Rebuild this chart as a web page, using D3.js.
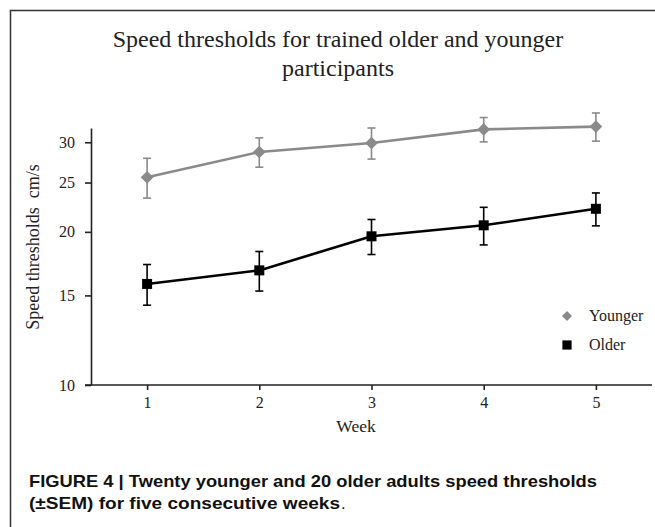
<!DOCTYPE html>
<html>
<head>
<meta charset="utf-8">
<script src="https://d3js.org/d3.v7.min.js"></script>
<style>
  body { margin: 0; background: #fff; }
  svg { display: block; }
  .axis path, .axis line { stroke: #222; stroke-width: 1.6; }
  .axis text { font-family: "Liberation Serif", "Times New Roman", serif; font-size: 16px; fill: #222; }
  .serif { font-family: "Liberation Serif", "Times New Roman", serif; fill: #222; }
  .caption { font-family: "Liberation Sans", Arial, sans-serif; font-weight: bold; font-size: 16.5px; fill: #111; }
</style>
</head>
<body>
<div id="chart"></div>
<script>

var weeks = [1, 2, 3, 4, 5];

var youngerMean = [25.6, 28.7, 29.9, 31.8, 32.2];
var youngerSem = [2.3, 1.9, 2.1, 1.75, 2.05];

var olderMean = [15.8, 16.8, 19.6, 20.6, 22.2];
var olderSem = [1.45, 1.5, 1.55, 1.75, 1.65];

var yTicks = [10, 15, 20, 25, 30];

var W = 655, H = 527;

var svg = d3.select("#chart")
    .append("svg")
    .attr("width", W)
    .attr("height", H);

// figure frame (only top and left edges show)
svg.append("rect")
    .attr("x", 10.5)
    .attr("y", 10.5)
    .attr("width", W + 20)
    .attr("height", H + 20)
    .attr("fill", "none")
    .attr("stroke", "#333")
    .attr("stroke-width", 1.5);

var xScale = d3.scaleLinear()
    .domain([0.5, 5.5])
    .range([91, 652]);

var yScale = d3.scaleLog()
    .domain([10, 32])
    .range([385, 128]);

// title
var title = svg.append("text")
    .attr("class", "serif")
    .attr("x", 338)
    .attr("y", 47)
    .style("text-anchor", "middle")
    .style("font-size", "24px");
title.append("tspan").attr("x", 338).text("Speed thresholds for trained older and younger");
title.append("tspan").attr("x", 338).attr("dy", 29).text("participants");

// axes
var xAxis = d3.axisBottom(xScale).tickValues(weeks).tickFormat(d3.format("d")).tickSize(5).tickSizeOuter(0).tickPadding(7);
var yAxis = d3.axisLeft(yScale).tickValues(yTicks).tickFormat(d3.format("d")).tickSize(6).tickSizeOuter(0).tickPadding(10);

svg.append("g")
    .attr("class", "axis")
    .attr("transform", "translate(0,385)")
    .call(xAxis)
    .call(function (g) { g.select(".domain").attr("d", "M85,0H652"); });

svg.append("g")
    .attr("class", "axis")
    .attr("transform", "translate(91,0)")
    .call(yAxis);

svg.append("text")
    .attr("class", "serif")
    .attr("x", 356)
    .attr("y", 432)
    .style("text-anchor", "middle")
    .style("font-size", "17.5px")
    .text("Week");

svg.append("text")
    .attr("class", "serif")
    .attr("transform", "rotate(-90)")
    .attr("x", -247)
    .attr("y", 39)
    .style("text-anchor", "middle")
    .style("font-size", "18px")
    .attr("xml:space", "preserve")
    .text("Speed thresholds  cm/s");

function makeSeries(mean, sem) {
    return weeks.map(function (w, i) {
        return { week: w, mean: mean[i], lo: mean[i] - sem[i], hi: mean[i] + sem[i] };
    });
}

var series = [
    { name: "Younger", color: "#8a8a8a", data: makeSeries(youngerMean, youngerSem), shape: "diamond" },
    { name: "Older", color: "#000", data: makeSeries(olderMean, olderSem), shape: "square" }
];

var line = d3.line()
    .x(function (d) { return xScale(d.week); })
    .y(function (d) { return yScale(d.mean); });

series.forEach(function (s) {
    var g = svg.append("g");

    // error bars
    var eb = g.selectAll(".eb")
        .data(s.data).enter()
        .append("g")
        .attr("stroke", s.color)
        .attr("stroke-width", 1.6);
    eb.append("line")
        .attr("x1", function (d) { return xScale(d.week); })
        .attr("x2", function (d) { return xScale(d.week); })
        .attr("y1", function (d) { return yScale(d.lo); })
        .attr("y2", function (d) { return yScale(d.hi); });
    eb.append("line")
        .attr("x1", function (d) { return xScale(d.week) - 4; })
        .attr("x2", function (d) { return xScale(d.week) + 4; })
        .attr("y1", function (d) { return yScale(d.hi); })
        .attr("y2", function (d) { return yScale(d.hi); });
    eb.append("line")
        .attr("x1", function (d) { return xScale(d.week) - 4; })
        .attr("x2", function (d) { return xScale(d.week) + 4; })
        .attr("y1", function (d) { return yScale(d.lo); })
        .attr("y2", function (d) { return yScale(d.lo); });

    g.append("path")
        .datum(s.data)
        .attr("fill", "none")
        .attr("stroke", s.color)
        .attr("stroke-width", 2.6)
        .attr("d", line);

    var sym = d3.symbol().type(d3.symbolSquare).size(s.shape == "diamond" ? 80 : 100);
    g.selectAll(".mark")
        .data(s.data).enter()
        .append("path")
        .attr("fill", s.color)
        .attr("d", sym)
        .attr("transform", function (d) {
            return "translate(" + xScale(d.week) + "," + yScale(d.mean) + ")" + (s.shape == "diamond" ? " rotate(45)" : "");
        });
});

// legend
var legend = svg.selectAll(".legend")
    .data(series).enter()
    .append("g")
    .attr("transform", function (d, i) { return "translate(567," + (316 + i * 29) + ")"; });

legend.append("path")
    .attr("fill", function (d) { return d.color; })
    .attr("d", function (d) { return d3.symbol().type(d3.symbolSquare).size(d.shape == "diamond" ? 50 : 85)(); })
    .attr("transform", function (d) { return d.shape == "diamond" ? "rotate(45)" : null; });

legend.append("text")
    .attr("class", "serif")
    .attr("x", 22)
    .attr("y", 5)
    .style("font-size", "16px")
    .text(function (d) { return d.name; });

// caption
svg.append("text")
    .attr("class", "caption")
    .attr("x", 29)
    .attr("y", 487)
    .attr("textLength", 568)
    .attr("lengthAdjust", "spacingAndGlyphs")
    .text("FIGURE 4 | Twenty younger and 20 older adults speed thresholds");

svg.append("text")
    .attr("class", "caption")
    .attr("x", 29)
    .attr("y", 509)
    .attr("textLength", 311)
    .attr("lengthAdjust", "spacingAndGlyphs")
    .text("(±SEM) for five consecutive weeks");

svg.append("text")
    .attr("class", "caption")
    .attr("x", 341)
    .attr("y", 509)
    .style("font-weight", "normal")
    .text(".");

</script>
</body>
</html>
